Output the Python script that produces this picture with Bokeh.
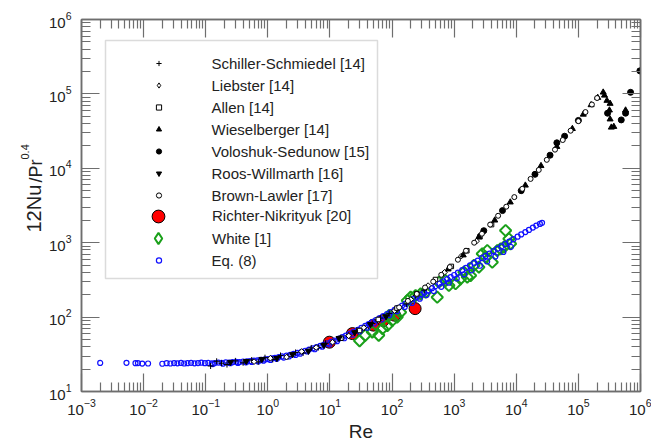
import math
from bokeh.plotting import figure
from bokeh.layouts import row
from bokeh.models import (LogAxis, FixedTicker, LogTickFormatter, CustomJSTickFormatter,
                          Legend, LegendItem, Label, BoxAnnotation)
from bokeh.embed import file_html
from bokeh.resources import INLINE

# ---------------- data ----------------
re_ss = [0.12, 0.15, 0.18, 0.22, 0.3, 0.4, 0.55, 0.7, 0.9, 1.2, 1.6, 2.1, 2.8, 3.7, 5, 6.5, 8.5, 11, 15, 20, 27, 36, 48, 65, 90, 120, 170, 240, 330]
nu_ss = [22.0, 25.5, 24.0, 23.0, 25.8, 24.3, 26.5, 25.0, 28.5, 27.0, 30.5, 29.5, 33.5, 33.0, 38.5, 39.0, 44.5, 46.0, 53.0, 57.0, 66.0, 72.0, 82.0, 97.0, 112, 125, 150, 195, 230]

re_li = [0.6, 1.1, 2, 3.5, 6, 11, 20, 35, 60, 110, 200, 380, 700, 1300, 2300]
nu_li = [25.2, 28.0, 29.0, 34.5, 39.0, 46.0, 56.0, 72.0, 90, 122, 172, 265, 400, 660, 1050]

re_al = [15, 30, 60, 120, 250, 500, 900, 1600, 2600, 4000]
nu_al = [52, 66, 93, 132, 205, 320, 480, 780, 1200, 1750]

re_wi = [800, 1400, 2500, 4500, 8000, 14000, 25000, 45000, 80000, 120000, 160000, 205000,
         251000, 263000, 288000, 324000, 316000, 324000, 339000, 372000, 575000]
nu_wi = [440, 680, 1200, 2000, 3500, 5900, 10800, 19500, 34000, 53000, 71000, 89000,
         105000, 95500, 81300, 74100, 60300, 45700, 35500, 36300, 60300]

re_vs = [3000, 6000, 12000, 20000, 35000, 45000, 60000, 100000, 295000, 490000, 575000, 692000, 977000]
nu_vs = [1450, 2700, 5000, 8300, 15000, 22000, 27000, 44000, 55000, 44700, 55000, 105000, 204000]

re_rw = [0.25, 0.45, 0.8, 1.4, 2.5, 4.5, 8, 14, 25, 45, 80]
nu_rw = [24.8, 25.5, 27.2, 28.0, 31.5, 35.0, 42.0, 52.0, 62.0, 80.0, 102]

re_bl = [130, 180, 250, 340, 460, 620, 850, 1150, 1550, 2100, 2800, 3800, 5100, 6900, 9300,
         12500, 17000, 23000, 31000, 42000, 56000, 75000, 100000, 130000, 165000, 200000]
nu_bl = [135, 165, 205, 250, 300, 370, 470, 590, 780, 1000, 1320, 1750, 2300, 3050, 4100,
         5300, 7200, 9500, 13000, 17800, 24000, 32000, 43000, 57000, 72000, 88000]

re_rn = [9.8, 23, 50, 72, 110, 235]
nu_rn = [46, 60, 78, 90, 106, 130]

re_wh = [30, 37, 48, 61, 70, 84, 89, 101, 121, 137, 176, 199, 239, 288, 346, 534, 568, 727, 822,
         1053, 1267, 1432, 1626, 1837, 2080, 2500, 2832, 3206, 3412, 4107, 4945, 5588, 6324, 6730, 7610, 8090]
nu_wh = [48, 57, 63, 57, 70, 77, 105, 90, 100, 116, 167, 185, 195, 205, 216, 185, 294, 310, 266,
         281, 327, 402, 345, 362, 494, 469, 709, 639, 785, 547, 785, 828, 871, 1459, 1128, 966]

re_eq = [0.002, 0.0053, 0.0074, 0.0081, 0.0095, 0.0118, 0.02, 0.0235, 0.027, 0.031, 0.035, 0.04, 0.045,
         0.051, 0.058, 0.066, 0.075, 0.085, 0.097, 0.11, 0.125, 0.14, 0.16, 0.18, 0.21, 0.24, 0.27,
         0.31, 0.35, 0.4, 0.46, 0.52, 0.6, 0.68, 0.78, 0.9, 1.0, 1.15, 1.3, 1.5, 1.7, 2.0, 2.3, 2.6,
         3.0, 3.5, 4.0, 4.6, 5.3, 6.1, 7.0, 8.0, 9.2, 10.5, 12, 14, 16, 18, 21, 24, 28, 32, 37, 42,
         48, 55, 63, 72, 83, 95, 110, 125, 145, 165, 190, 220, 250, 290, 330, 380, 440, 500, 580,
         670, 770, 880, 1000, 1150, 1350, 1550, 1800, 2100, 2400, 2800, 3200, 3700, 4300, 5000,
         5800, 6700, 7700, 9000, 10500, 12000, 14000, 16000, 18500, 21000, 24000, 26000,
         0.13, 0.19, 0.25, 0.33, 0.45, 0.55, 0.7, 0.85, 1.1, 1.4, 1.8, 2.2, 2.8, 3.3, 4.3, 5.7,
         7.5, 9.8, 13, 17, 23, 30, 40, 52, 68, 90, 120, 160, 210, 280, 360, 470, 620, 820, 1100,
         1450, 1900, 2600, 3400, 4600, 6200, 8200]
nu_eq = [24.2, 24.3, 24.0, 24.1, 23.7, 23.8, 23.6, 24.0, 23.8, 24.1, 23.9, 24.2, 23.8,
         24.0, 24.3, 23.9, 24.1, 24.4, 24.0, 24.2, 23.9, 24.1, 24.5, 24.3, 24.6, 24.4, 24.8,
         25.0, 24.9, 25.3, 25.5, 25.7, 26.0, 26.2, 26.6, 27.0, 27.3, 27.8, 28.3, 29.0, 29.6, 30.4, 31.2, 32.0,
         33.0, 34.2, 35.3, 36.6, 38.0, 39.5, 41.0, 42.6, 44.5, 46.5, 48.5, 51.5, 54.0, 56.5, 60.0, 63.5, 67.5, 71.5, 76.0, 80.5,
         85.5, 91.0, 97.0, 103, 110, 117, 125, 133, 143, 152, 163, 175, 186, 200, 213, 228, 245, 261, 281,
         302, 323, 345, 368, 395, 428, 460, 496, 536, 574, 620, 664, 714, 770, 830,
         895, 962, 1032, 1115, 1205, 1290, 1390, 1485, 1595, 1700, 1790, 1850,
         23.4, 23.6, 24.0, 24.2, 24.6, 25.0, 25.4, 26.0, 26.5, 27.4, 28.6, 29.6, 31.0, 32.2, 34.5, 37.0,
         40.0, 43.0, 47.5, 52, 58, 64, 72, 82, 93, 106, 120, 137, 155, 177, 198, 224, 255, 290, 330,
         375, 425, 490, 560, 650, 750, 880]

x_decades = [-3, -2, -1, 0, 1, 2, 3, 4, 5, 6]
y_decades = [1, 2, 3, 4, 5, 6]

FONT = "Liberation Sans"
AX = "#6e6e6e"
TXT = "#222222"
FW, FH = 559, 372
TITLE_W = 44

p = figure(frame_width=FW, frame_height=FH, x_axis_type="log", y_axis_type="log",
           x_range=(1e-3, 1e6), y_range=(1e1, 1e6), output_backend="svg",
           toolbar_location=None, min_border_left=81 - TITLE_W, min_border_right=11,
           min_border_top=19, min_border_bottom=54)
p.grid.visible = False
p.outline_line_color = AX
p.outline_line_width = 1.5
p.background_fill_color = "white"
p.border_fill_color = "white"

def ticker(decades):
    major = [10.0 ** k for k in decades]
    minor = [m * 10.0 ** k for k in decades[:-1] for m in range(2, 10)]
    return FixedTicker(ticks=major, minor_ticks=minor)

def style(ax, dec, show):
    ax.ticker = ticker(dec)
    ax.major_tick_in = 18
    ax.major_tick_out = 0
    ax.minor_tick_in = 9
    ax.minor_tick_out = 0
    ax.axis_line_color = AX
    ax.axis_line_width = 1.5
    ax.major_tick_line_color = AX
    ax.major_tick_line_width = 1.2
    ax.minor_tick_line_color = AX
    ax.minor_tick_line_width = 1.2
    if show:
        ax.formatter = LogTickFormatter()
        ax.major_label_text_font = FONT
        ax.major_label_text_font_size = "15px"
        ax.major_label_text_color = TXT
    else:
        ax.formatter = CustomJSTickFormatter(code="return ''")
        ax.major_label_text_font_size = "1px"
        ax.major_label_standoff = 0

style(p.xaxis[0], x_decades, True)
style(p.yaxis[0], y_decades, True)
p.xaxis[0].major_label_standoff = 7
p.yaxis[0].major_label_standoff = 10
p.xaxis[0].axis_label = "Re"
p.xaxis[0].axis_label_text_font = FONT
p.xaxis[0].axis_label_text_font_size = "19px"
p.xaxis[0].axis_label_text_font_style = "normal"
p.xaxis[0].axis_label_text_color = TXT
p.xaxis[0].axis_label_standoff = 3

top = LogAxis()
style(top, x_decades, False)
p.add_layout(top, "above")
right = LogAxis()
style(right, y_decades, False)
p.add_layout(right, "right")

# ---------------- data marks ----------------
r_rn = p.scatter(re_rn, nu_rn, marker="circle", size=12, fill_color="#ff0000", line_color="#000000", line_width=1)
r_wh = p.scatter(re_wh, nu_wh, marker="square", angle=math.pi / 4, size=8, fill_color=None,
                 line_color="#1aa01a", line_width=2)
r_eq = p.scatter(re_eq, nu_eq, marker="circle", size=5, fill_color=None, line_color="#1010ff", line_width=1.2)
r_ss = p.scatter(re_ss, nu_ss, marker="cross", size=6, line_color="black", line_width=1)
r_li = p.scatter(re_li, nu_li, marker="square", angle=math.pi / 4, size=4, fill_color="white", line_color="black", line_width=1)
r_al = p.scatter(re_al, nu_al, marker="square", size=4.5, fill_color="white", line_color="black", line_width=1)
r_wi = p.scatter(re_wi, nu_wi, marker="triangle", size=6, fill_color="black", line_color="black")
r_vs = p.scatter(re_vs, nu_vs, marker="circle", size=6, fill_color="black", line_color="black")
r_rw = p.scatter(re_rw, nu_rw, marker="inverted_triangle", size=6, fill_color="black", line_color="black")
r_bl = p.scatter(re_bl, nu_bl, marker="circle", size=5, fill_color="white", line_color="black", line_width=1)

# legend-key glyphs (diamond shape in the key; no visible point)
NAN = float("nan")
k_li = p.scatter([NAN], [NAN], marker="diamond", fill_color="white", line_color="black", line_width=1)
k_wh = p.scatter([NAN], [NAN], marker="diamond", fill_color=None, line_color="#1aa01a", line_width=2)

# ---------------- legend ----------------
base = dict(padding=0, margin=0, spacing=0,
            label_text_font=FONT, label_text_font_size="15px", label_text_color=TXT,
            border_line_color=None, background_fill_alpha=0)
legA = Legend(items=[LegendItem(label="Schiller-Schmiedel [14]", renderers=[r_ss]),
                     LegendItem(label="Liebster [14]", renderers=[k_li]),
                     LegendItem(label="Allen [14]", renderers=[r_al]),
                     LegendItem(label="Wieselberger [14]", renderers=[r_wi]),
                     LegendItem(label="Voloshuk-Sedunow [15]", renderers=[r_vs]),
                     LegendItem(label="Roos-Willmarth [16]", renderers=[r_rw]),
                     LegendItem(label="Brown-Lawler [17]", renderers=[r_bl])],
              location=(70.5, 184.7), glyph_width=13, glyph_height=22, label_height=22,
              label_standoff=47, **base)
legB = Legend(items=[LegendItem(label="Richter-Nikrityuk [20]", renderers=[r_rn])],
              location=(61, 159.3), glyph_width=32, glyph_height=32, label_height=32,
              label_standoff=38, **base)
legW = Legend(items=[LegendItem(label="White [1]", renderers=[k_wh])],
              location=(63, 139), glyph_width=28, glyph_height=28, label_height=28,
              label_standoff=40, **base)
legC = Legend(items=[LegendItem(label="Eq. (8)", renderers=[r_eq])],
              location=(70.5, 120), glyph_width=13, glyph_height=22, label_height=22,
              label_standoff=47, **base)
for lg in (legA, legB, legW, legC):
    p.add_layout(lg)

box = BoxAnnotation(left=24, right=296, bottom=113, top=351,
                    left_units="screen", right_units="screen", top_units="screen", bottom_units="screen",
                    fill_color=None, fill_alpha=0, line_color="#888888", line_width=1.5)
p.add_layout(box)

# ---------------- y-axis title 12Nu/Pr^0.4 in a narrow strip at the left ----------------
H = 445
tfig = figure(frame_width=TITLE_W, frame_height=H, x_range=(0, TITLE_W), y_range=(0, H),
              output_backend="svg", toolbar_location=None, min_border=0,
              x_axis_location=None, y_axis_location=None, outline_line_color=None)
tfig.grid.visible = False
tfig.border_fill_color = "white"
lab_kw = dict(x_units="screen", y_units="screen", angle=math.pi / 2, text_font=FONT,
              text_align="left", text_baseline="alphabetic", text_color=TXT)
tfig.add_layout(Label(x=33, y=H - 213, text="12Nu", text_font_size="20px", **lab_kw))
tfig.add_layout(Label(x=35, y=H - 163, text="/Pr", text_font_size="18px", **lab_kw))
tfig.add_layout(Label(x=24, y=H - 140, text="0.4", text_font_size="11px", **lab_kw))

lay = row(tfig, p, spacing=0)
open("out.html", "w").write(file_html(lay, INLINE))
